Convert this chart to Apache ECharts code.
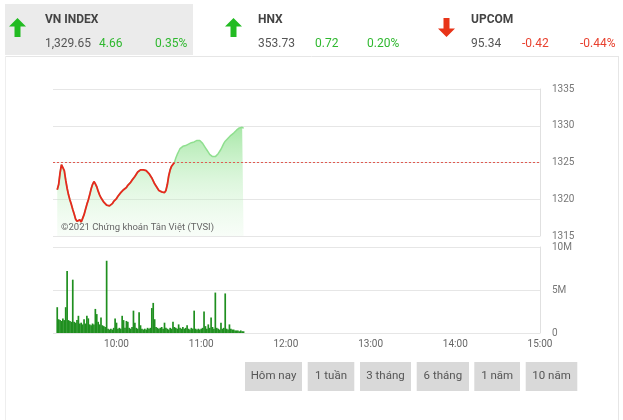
<!DOCTYPE html>
<html><head><meta charset="utf-8">
<script src="https://cdn.jsdelivr.net/npm/echarts@6/dist/echarts.min.js"></script>
<style>html,body{margin:0;padding:0;background:#fff}#c{width:623px;height:420px}</style>
</head><body><div id="c"></div>
<script>
const FONT = "Roboto,'Liberation Sans',sans-serif";
// session starts 9:15 (555 min), ends 15:00 (900 min)
const axisStart = 555, axisEnd = 900;
const dataStart = 558; // 9:18, one value per minute
const refPrice = 1325;
const priceTicks = [1315, 1320, 1325, 1330, 1335];
const timeTickLabels = ['10:00', '11:00', '12:00', '13:00', '14:00', '15:00'];
const priceValues = [
 1321.3,1322.0,1323.6,1324.7,1324.5,1323.9,1322.6,1321.5,1320.6,1319.9,
 1319.3,1318.6,1318.0,1317.3,1317.0,1316.9,1317.2,1316.9,1317.4,1317.9,
 1318.6,1319.3,1319.9,1320.6,1321.4,1322.0,1322.4,1322.1,1321.7,1321.1,
 1320.6,1320.2,1319.9,1319.6,1319.4,1319.2,1319.3,1319.1,1319.2,1319.4,
 1319.7,1319.9,1320.1,1320.4,1320.6,1320.9,1321.0,1321.3,1321.5,1321.6,
 1321.9,1322.1,1322.3,1322.6,1322.8,1323.1,1323.4,1323.7,1323.9,1324.0,
 1323.9,1324.0,1323.9,1323.9,1323.7,1323.5,1323.2,1322.9,1322.5,1322.1,
 1321.8,1321.5,1321.2,1321.1,1321.0,1321.2,1320.9,1321.2,1322.0,1323.2,
 1324.0,1324.5,1324.7,1325.0,1325.6,1326.1,1326.5,1326.9,1327.0,1327.2,
 1327.3,1327.3,1327.4,1327.5,1327.6,1327.7,1327.8,1327.8,1327.9,1328.0,
 1328.1,1328.0,1327.8,1327.6,1327.3,1327.0,1326.7,1326.4,1326.1,1325.9,
 1325.8,1325.8,1325.8,1326.0,1326.2,1326.5,1326.8,1327.2,1327.6,1327.9,
 1328.1,1328.3,1328.5,1328.7,1328.9,1329.0,1329.2,1329.4,1329.6,1329.7,
 1329.8,1329.8,1329.65
];
const volumeValues = [ // millions of shares per minute
 3.0,1.6,1.5,1.4,1.7,1.5,3.0,7.2,1.5,1.4,
 1.3,6.2,1.3,1.2,1.5,2.0,1.1,1.2,1.0,1.6,
 1.1,2.0,1.7,1.0,0.9,1.1,1.0,2.8,2.2,1.3,
 1.0,1.8,0.9,0.8,0.7,8.4,0.5,0.4,0.5,0.4,
 0.6,1.7,1.2,0.5,0.6,0.5,2.0,1.5,0.6,1.4,
 1.3,0.6,0.5,0.7,2.6,1.2,0.6,0.5,2.4,0.9,
 0.5,0.4,0.5,0.4,0.6,0.5,0.6,2.9,3.5,1.6,
 0.7,0.6,0.5,0.6,0.7,0.5,1.2,0.6,0.5,0.4,
 0.6,0.5,1.3,0.7,0.6,0.5,1.0,0.6,0.5,0.7,
 0.5,0.6,0.9,0.5,0.4,0.6,0.5,2.6,0.5,0.4,
 0.5,0.4,0.5,0.6,2.5,0.8,0.5,1.0,0.6,1.8,
 0.7,0.5,4.7,0.6,0.5,0.4,1.2,0.5,0.6,4.6,
 0.5,0.4,1.0,0.5,0.4,0.4,0.3,0.3,0.3,0.2,
 0.3,0.2,0.2
];
const indices = [
 {name:'VN INDEX', value:'1,329.65', change:'4.66', pct:'0.35%', up:true},
 {name:'HNX', value:'353.73', change:'0.72', pct:'0.20%', up:true},
 {name:'UPCOM', value:'95.34', change:'-0.42', pct:'-0.44%', up:false}
];
const buttons = ['Hôm nay', '1 tuần', '3 tháng', '6 tháng', '1 năm', '10 năm'];

const GREEN = '#2fb82f', RED = '#e8402e';
function fmtTime(v){const h=Math.floor(v/60),m=v%60;return (h<10?'0':'')+h+':'+(m<10?'0':'')+m;}
const labelMinutes = timeTickLabels.map(s=>{const p=s.split(':');return +p[0]*60+ +p[1];});

const priceData = priceValues.map((v,i)=>[dataStart+i, v]);
const belowData = priceValues.map((v,i)=>[dataStart+i, v<=refPrice ? v : null]);
const volumeData = volumeValues.map((v,i)=>[dataStart+i, v]);

// header graphics
const g = [];
g.push({type:'rect', shape:{x:5,y:4,width:188,height:51}, style:{fill:'#ebebeb'}, silent:true});
g.push({type:'line', shape:{x1:5,y1:56.5,x2:618,y2:56.5}, style:{stroke:'#e6e6e6',lineWidth:1}});
g.push({type:'line', shape:{x1:5.5,y1:56,x2:5.5,y2:420}, style:{stroke:'#eeeeee',lineWidth:1}});
g.push({type:'line', shape:{x1:618.5,y1:56,x2:618.5,y2:420}, style:{stroke:'#e6e6e6',lineWidth:1}});
const hx = [[9,45,99,155],[225,258,315,367],[438,471,522,580]];
indices.forEach((d,i)=>{
  const [ax,tx,cx,px] = hx[i];
  const col = d.up ? '#22bb22' : '#e83418';
  const pts = d.up
    ? [[8.5,0],[17,8.5],[11.5,8.5],[11.5,19],[5.5,19],[5.5,8.5],[0,8.5]]
    : [[8.5,19],[17,10.5],[11.5,10.5],[11.5,0],[5.5,0],[5.5,10.5],[0,10.5]];
  g.push({type:'polygon', shape:{points:pts.map(p=>[p[0]+ax,p[1]+18])}, style:{fill:col}});
  g.push({type:'text', x:tx, y:20, style:{text:d.name, font:"bold 12px "+FONT, fill:'#444', textVerticalAlign:'middle'}});
  g.push({type:'text', x:tx, y:43.5, style:{text:d.value, font:"12px "+FONT, fill:'#555', textVerticalAlign:'middle'}});
  g.push({type:'text', x:cx, y:43.5, style:{text:d.change, font:"12px "+FONT, fill:d.up?GREEN:RED, textVerticalAlign:'middle'}});
  g.push({type:'text', x:px, y:43.5, style:{text:d.pct, font:"12px "+FONT, fill:d.up?GREEN:RED, textVerticalAlign:'middle'}});
});
g.push({type:'text', x:61, y:228, z:10, style:{text:'©2021 Chứng khoán Tân Việt (TVSI)', font:"9.5px "+FONT, fill:'#666', textVerticalAlign:'middle'}});
const bx = [[245,57],[307.7,46.6],[360,51],[416.7,52.3],[474.3,45.7],[525.7,51.6]];
buttons.forEach((b,i)=>{
  g.push({type:'rect', shape:{x:bx[i][0],y:362,width:bx[i][1],height:29}, style:{fill:'#d9d9d9'}});
  g.push({type:'text', x:bx[i][0]+bx[i][1]/2, y:376.5, style:{text:b, font:"11.5px "+FONT, fill:'#555', textAlign:'center', textVerticalAlign:'middle'}});
});

const chart = echarts.init(document.getElementById('c'), null, {renderer:'canvas'});
chart.setOption({
  animation:false,
  backgroundColor:'#fff',
  grid:[
    {left:53, right:83, top:89, height:147},
    {left:53, right:83, top:247, height:86}
  ],
  xAxis:[
    {type:'value', gridIndex:0, min:axisStart, max:axisEnd, axisLine:{show:false}, axisTick:{show:false}, axisLabel:{show:false}, splitLine:{show:false}},
    {type:'value', gridIndex:1, min:axisStart, max:axisEnd, axisLine:{show:false}, axisTick:{show:false}, splitLine:{show:false},
     axisLabel:{customValues:labelMinutes, formatter:v=>fmtTime(v), color:'#666', fontSize:10, fontFamily:FONT, margin:6}}
  ],
  yAxis:[
    {type:'value', gridIndex:0, position:'right', min:1315, max:1335, interval:5,
     axisLine:{show:true, lineStyle:{color:'#e0e0e0'}}, axisTick:{show:false},
     axisLabel:{color:'#777', fontSize:10, fontFamily:FONT, margin:12, formatter:v=>String(v)}, splitLine:{lineStyle:{color:'#e6e6e6'}}},
    {type:'value', gridIndex:1, position:'right', min:0, max:10, interval:5,
     axisLine:{show:true, lineStyle:{color:'#e0e0e0'}}, axisTick:{show:false},
     axisLabel:{color:'#777', fontSize:10, fontFamily:FONT, margin:12, formatter:v=>v===0?'0':v+'M'}, splitLine:{lineStyle:{color:'#e6e6e6'}}}
  ],
  series:[
    {type:'line', xAxisIndex:0, yAxisIndex:0, data:priceData, symbol:'none', lineStyle:{width:1.5, color:'#8fdf8f'},
     areaStyle:{origin:'start', color:new echarts.graphic.LinearGradient(0,0,0,1,[
       {offset:0,color:'rgba(125,220,125,0.95)'},{offset:0.5,color:'rgba(175,235,175,0.6)'},{offset:1,color:'rgba(225,247,225,0.35)'}])},
     markLine:{silent:true, symbol:'none', label:{show:false}, lineStyle:{color:'#e05a50', type:[2,2], width:1},
       data:[{yAxis:refPrice}]}},
    {type:'line', xAxisIndex:0, yAxisIndex:0, data:belowData, symbol:'none', connectNulls:false,
     lineStyle:{width:1.8, color:'#e8281e'}, z:3},
    {type:'bar', xAxisIndex:1, yAxisIndex:1, data:volumeData, barWidth:1.7, itemStyle:{color:'#1f8f1f'}}
  ],
  graphic:g
});
</script></body></html>
